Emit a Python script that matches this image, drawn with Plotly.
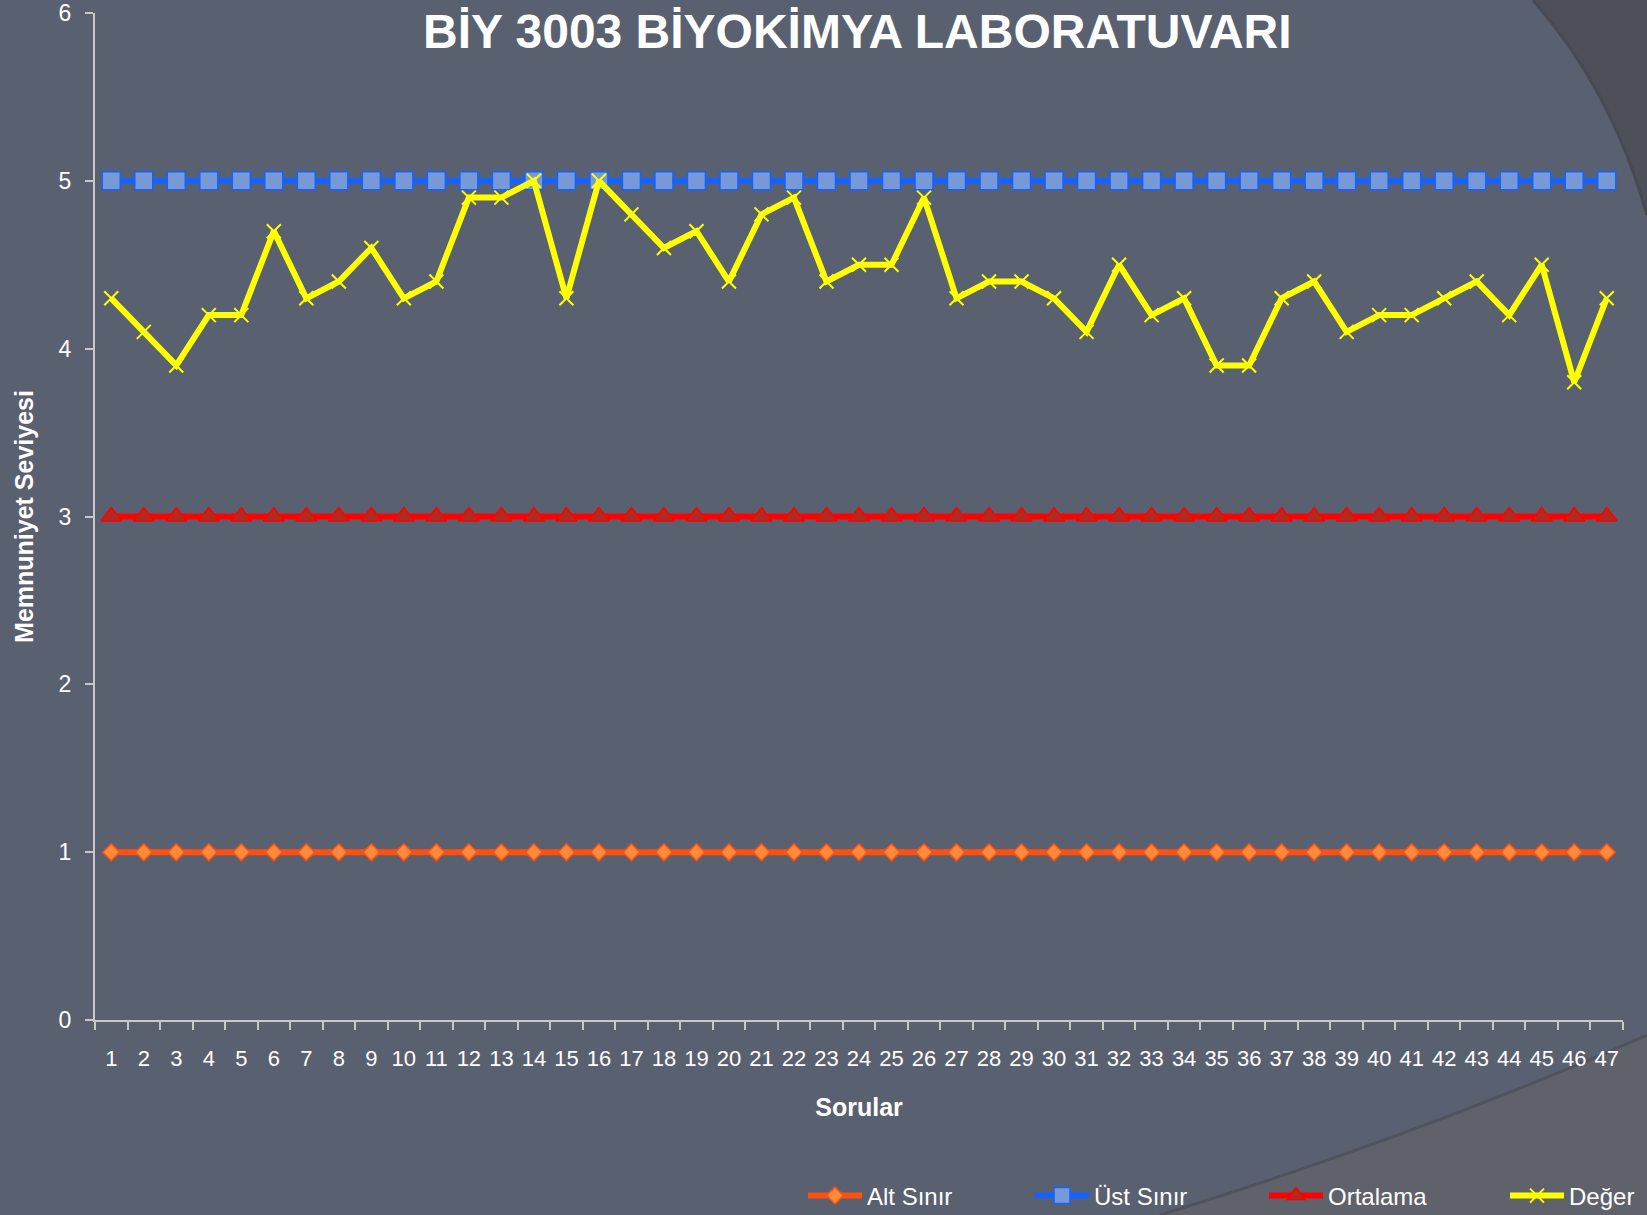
import plotly.graph_objects as go

W, H = 1647, 1215
ML, MR, MT, MB = 95, 24, 13, 195

categories = [str(i) for i in range(1, 48)]
alt_sinir = [1] * 47
ust_sinir = [5] * 47
ortalama = [3] * 47
deger = [4.3, 4.1, 3.9, 4.2, 4.2, 4.7, 4.3, 4.4, 4.6, 4.3,
         4.4, 4.9, 4.9, 5.0, 4.3, 5.0, 4.8, 4.6, 4.7, 4.4,
         4.8, 4.9, 4.4, 4.5, 4.5, 4.9, 4.3, 4.4, 4.4, 4.3,
         4.1, 4.5, 4.2, 4.3, 3.9, 3.9, 4.3, 4.4, 4.1, 4.2,
         4.2, 4.3, 4.4, 4.2, 4.5, 3.8, 4.3]
y_ticks = [0, 1, 2, 3, 4, 5, 6]

BG = "#596070"
FONT = "Liberation Sans, Arial, sans-serif"

pw = W - ML - MR
ph = H - MT - MB


def px(x):
    return (x - ML) / pw


def py(y):
    return (H - MB - y) / ph


def P(x, y):
    return f"{px(x):.5f},{py(y):.5f}"


fig = go.Figure()

fig.add_trace(go.Scatter(
    x=categories, y=alt_sinir, name="Alt Sınır", mode="lines+markers",
    legend="legend",
    line=dict(color="#ff5010", width=6),
    marker=dict(symbol="diamond", size=13, color="#ff8a3c",
                line=dict(color="#ff5010", width=1.5))))
fig.add_trace(go.Scatter(
    x=categories, y=ust_sinir, name="Üst Sınır", mode="lines+markers",
    legend="legend2",
    line=dict(color="#1463ff", width=6),
    marker=dict(symbol="square", size=18, color="#7799d8",
                line=dict(color="#1463ff", width=1.5))))
fig.add_trace(go.Scatter(
    x=categories, y=ortalama, name="Ortalama", mode="lines+markers",
    legend="legend3",
    line=dict(color="#ff0000", width=6),
    marker=dict(symbol="triangle-up", size=18, color="#b02a20",
                line=dict(color="#ff0000", width=1.5))))
fig.add_trace(go.Scatter(
    x=categories, y=deger, name="Değer", mode="lines+markers",
    legend="legend4",
    line=dict(color="#ffff00", width=6),
    marker=dict(symbol="x-thin", size=14, color="#ffff00",
                line=dict(color="#ffff00", width=2))))

shapes = [
    # top-right dark corner
    dict(type="path", xref="paper", yref="paper", layer="below",
         path=f"M {P(1533,0)} Q {P(1612,90)} {P(1647,215)} L {P(1647,0)} Z",
         fillcolor="#4d5059", line=dict(width=0)),
    dict(type="path", xref="paper", yref="paper", layer="below",
         path=f"M {P(1533,0)} Q {P(1612,90)} {P(1647,215)}",
         line=dict(color="#474a53", width=3)),
    # bottom-right lighter region
    dict(type="path", xref="paper", yref="paper", layer="below",
         path=f"M {P(1160,1215)} Q {P(1420,1135)} {P(1647,1035)} L {P(1647,1215)} Z",
         fillcolor="#5f626b", line=dict(width=0)),
    dict(type="path", xref="paper", yref="paper", layer="below",
         path=f"M {P(1160,1215)} Q {P(1420,1135)} {P(1647,1035)}",
         line=dict(color="#4f535e", width=3)),
]


def leg(xpix):
    return dict(orientation="h", x=px(xpix), y=py(1196), xanchor="left",
                yanchor="middle", font=dict(size=24, color="white"),
                bgcolor="rgba(0,0,0,0)", itemwidth=54)


legend_starts = [803, 1030, 1264, 1505]

fig.update_layout(
    width=W, height=H,
    margin=dict(l=ML, r=MR, t=MT, b=MB, autoexpand=False),
    paper_bgcolor=BG, plot_bgcolor="rgba(0,0,0,0)",
    font=dict(family=FONT, color="white", size=23),
    shapes=shapes,
    showlegend=True,
    legend=leg(legend_starts[0]),
    legend2=leg(legend_starts[1]),
    legend3=leg(legend_starts[2]),
    legend4=leg(legend_starts[3]),
    annotations=[dict(text="<b>BİY 3003 BİYOKİMYA LABORATUVARI</b>",
                      xref="paper", yref="paper", x=px(857), y=py(32),
                      xanchor="center", yanchor="middle", showarrow=False,
                      font=dict(size=48, color="white", family=FONT))],
)

fig.update_xaxes(
    type="category", categoryorder="array", categoryarray=categories,
    range=[-0.5, 46.5], tickangle=0,
    tickson="boundaries", ticks="outside", ticklen=8, tickwidth=2,
    tickcolor="#c8c8c8", showline=True, linecolor="#c8c8c8", linewidth=2,
    showgrid=False, zeroline=False, ticklabelstandoff=18,
    tickfont=dict(size=22, color="white"),
    title=dict(text="<b>Sorular</b>", font=dict(size=25, color="white"),
               standoff=28),
)
fig.update_yaxes(
    range=[0, 6], tickvals=y_ticks, ticks="outside", ticklen=8, tickwidth=2,
    tickcolor="#c8c8c8", showline=True, linecolor="#c8c8c8", linewidth=2,
    showgrid=False, zeroline=False, ticklabelstandoff=9,
    ticklabeloverflow="allow",
    tickfont=dict(size=23, color="white"),
    title=dict(text="<b>Memnuniyet Seviyesi</b>",
               font=dict(size=25, color="white"), standoff=18),
)

fig.write_html("out.html",
               config={"displayModeBar": False},
               post_script="document.body.style.margin='0';"
                           "document.body.style.background='" + BG + "';")
